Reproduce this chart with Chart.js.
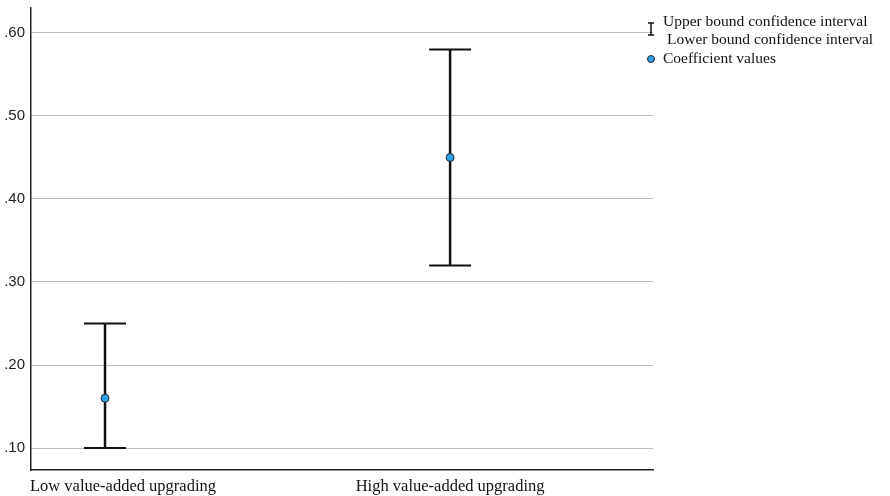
<!DOCTYPE html>
<html>
<head>
<meta charset="utf-8">
<script src="https://cdn.jsdelivr.net/npm/chart.js@4/dist/chart.umd.min.js"></script>
<style>
    body { margin: 0; background: #fff; }
    #wrap { width: 890px; height: 496px; }
</style>
</head>
<body>
<div id="wrap"><canvas id="chart" width="890" height="496"></canvas></div>
<script>
const categories = ['Low value-added upgrading', 'High value-added upgrading'];
const catPos = [1, 2];
const coefValues = [0.16, 0.45];
const lowerBound = [0.10, 0.32];
const upperBound = [0.25, 0.58];
const yTicks = [0.10, 0.20, 0.30, 0.40, 0.50, 0.60];

const serif = '"Liberation Serif", "Times New Roman", serif';
const sans = '"Liberation Sans", Arial, sans-serif';
const dotColor = '#2f9fe8';

// one stem per category, drawn as a two point line
const stemSets = catPos.map((x, i) => ({
    type: 'line',
    data: [{ x: x, y: lowerBound[i] }, { x: x, y: upperBound[i] }],
    borderColor: '#111',
    borderWidth: 2.5,
    pointRadius: 0,
    showLine: true,
    order: 3
}));

const capSet = {
    data: catPos.flatMap((x, i) => [{ x: x, y: lowerBound[i] }, { x: x, y: upperBound[i] }]),
    pointStyle: 'line',
    pointRadius: 21,
    borderColor: '#111',
    borderWidth: 2,
    order: 2
};

const coefSet = {
    data: catPos.map((x, i) => ({ x: x, y: coefValues[i] })),
    pointStyle: 'circle',
    pointRadius: 4,
    backgroundColor: dotColor,
    borderColor: '#222',
    borderWidth: 1,
    order: 1
};

// category names under the x axis, kept inside the plot like the original
const categoryLabels = {
    id: 'categoryLabels',
    afterDraw(chart) {
        const ctx = chart.ctx;
        const xs = chart.scales.x;
        ctx.save();
        ctx.font = '16.5px ' + serif;
        ctx.fillStyle = '#111';
        ctx.textBaseline = 'middle';
        categories.forEach((name, i) => {
            const w = ctx.measureText(name).width;
            let left = xs.getPixelForValue(catPos[i]) - w / 2;
            if (left < chart.chartArea.left - 1) left = chart.chartArea.left - 1;
            ctx.fillText(name, left, 487);
        });
        ctx.restore();
    }
};

const sideLegend = {
    id: 'sideLegend',
    afterDraw(chart) {
        const ctx = chart.ctx;
        ctx.save();
        // error bar symbol
        ctx.strokeStyle = '#111';
        ctx.lineWidth = 1.5;
        ctx.beginPath();
        ctx.moveTo(651, 23); ctx.lineTo(651, 35);
        ctx.moveTo(648, 23); ctx.lineTo(654, 23);
        ctx.moveTo(648, 35); ctx.lineTo(654, 35);
        ctx.stroke();
        // coefficient symbol
        ctx.beginPath();
        ctx.arc(651, 59, 3.5, 0, Math.PI * 2);
        ctx.fillStyle = dotColor;
        ctx.fill();
        ctx.lineWidth = 1;
        ctx.strokeStyle = '#222';
        ctx.stroke();

        ctx.font = '15.5px ' + serif;
        ctx.fillStyle = '#111';
        ctx.textBaseline = 'middle';
        ctx.fillText('Upper bound confidence interval', 663, 22);
        ctx.fillText('Lower bound confidence interval', 667, 40);
        ctx.fillText('Coefficient values', 663, 59);
        ctx.restore();
    }
};

new Chart(document.getElementById('chart'), {
    type: 'scatter',
    data: { datasets: [coefSet, capSet, ...stemSets] },
    options: {
        responsive: false,
        animation: false,
        layout: { autoPadding: false, padding: { top: 8, right: 237, left: 0, bottom: 0 } },
        plugins: { legend: { display: false }, tooltip: { enabled: false } },
        scales: {
            x: {
                type: 'linear',
                min: 0.7855,
                max: 2.588,
                grid: { display: false },
                ticks: { display: false },
                border: { color: '#222', width: 1.5 },
                afterFit(scale) {
                    scale.height = 26;
                    scale.paddingLeft = 0;
                    scale.paddingRight = 0;
                }
            },
            y: {
                type: 'linear',
                min: 0.0735,
                max: 0.6301,
                afterBuildTicks(scale) { scale.ticks = yTicks.map(v => ({ value: v })); },
                grid: { color: '#bdbdbd', lineWidth: 1, drawTicks: false },
                border: { color: '#222', width: 1.5 },
                ticks: {
                    padding: 6,
                    color: '#222',
                    font: { family: sans, size: 15 },
                    callback: v => v.toFixed(2).replace(/^0/, '')
                },
                afterFit(scale) {
                    scale.width = 31;
                    scale.paddingTop = 0;
                    scale.paddingBottom = 0;
                }
            }
        }
    },
    plugins: [categoryLabels, sideLegend]
});
</script>
</body>
</html>
